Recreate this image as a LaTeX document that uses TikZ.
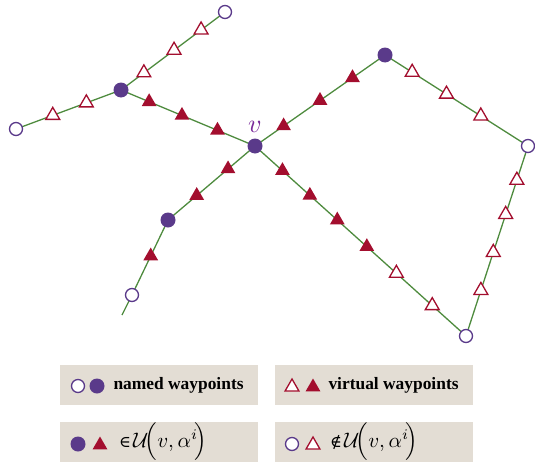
\documentclass[tikz,border=0pt]{standalone}
\usepackage{graphicx}
\usepackage{fontspec}
\setmainfont{Liberation Serif}
\newfontfamily\relsymfont{DejaVu Serif}
\usetikzlibrary{shapes.geometric,calc}
\definecolor{pgreen}{HTML}{4E8B3E}
\definecolor{ppurple}{HTML}{5A3A8A}
\definecolor{vpurple}{HTML}{7A2A9A}
\definecolor{pred}{HTML}{A30E2E}
\definecolor{boxfill}{HTML}{E3DDD4}
\newcommand{\memberset}{\scalebox{2.1}{$\mathcal{U}\!\Bigl(v,\alpha^{i}\!\Bigr)$}}
\tikzset{
  road/.style={draw=pgreen, line width=1.3pt},
  namedfull/.style={circle, fill=ppurple, minimum size=15pt, inner sep=0pt},
  namedopen/.style={circle, draw=ppurple, fill=white, line width=1.3pt, minimum size=13pt, inner sep=0pt},
  virtfull/.style={regular polygon, regular polygon sides=3, fill=pred, minimum size=17pt, inner sep=0pt},
  virtopen/.style={regular polygon, regular polygon sides=3, draw=pred, fill=white, line width=1.3pt, minimum size=16pt, inner sep=0pt},
  legbox/.style={fill=boxfill, minimum width=198pt, minimum height=40pt, inner sep=0pt},
  legtext/.style={anchor=west, font=\bfseries\fontsize{17.4}{17.4}\selectfont},
  legmath/.style={anchor=west, inner sep=0pt},
}
\begin{document}
\begin{tikzpicture}[x=1pt,y=-1pt]
\useasboundingbox (0,0) rectangle (535,463);
% named waypoints
\coordinate (TL) at (225,12);
\coordinate (L) at (16,129);
\coordinate (J) at (121,90);
\coordinate (V) at (255,146);
\coordinate (LL) at (168,220);
\coordinate (LO) at (132,295);
\coordinate (E) at (122,315);
\coordinate (T) at (385,55);
\coordinate (R) at (528,146);
\coordinate (B) at (466,336);
% roads
\draw[road] (L) -- (J) -- (TL);
\draw[road] (J) -- (V) -- (T) -- (R) -- (B) -- (V) -- (LL) -- (LO) -- (E);
% virtual waypoints
\foreach \t in {0.22,0.51,0.77} \node[virtopen] at ($(J)!\t!(TL)$) {};
\foreach \t in {0.35,0.67} \node[virtopen] at ($(L)!\t!(J)$) {};
\foreach \t in {0.21,0.455,0.72} \node[virtfull] at ($(J)!\t!(V)$) {};
\foreach \t in {0.31,0.67} \node[virtfull] at ($(V)!\t!(LL)$) {};
\node[virtfull] at ($(LL)!0.48!(LO)$) {};
\foreach \t in {0.22,0.5,0.75} \node[virtfull] at ($(V)!\t!(T)$) {};
\foreach \t in {0.19,0.43,0.67} \node[virtopen] at ($(T)!\t!(R)$) {};
\foreach \t in {0.13,0.26,0.39,0.53} \node[virtfull] at ($(V)!\t!(B)$) {};
\foreach \t in {0.67,0.84} \node[virtopen] at ($(V)!\t!(B)$) {};
\foreach \t in {0.24,0.44,0.64,0.82} \node[virtopen] at ($(B)!\t!(R)$) {};
% named waypoint marks
\node[namedopen] (nTL) at (TL) {};
\node[namedopen] (nL) at (L) {};
\node[namedfull] (nJ) at (J) {};
\node[namedfull] (nV) at (V) {};
\node[namedfull] (nLL) at (LL) {};
\node[namedopen] (nLO) at (LO) {};
\node[namedfull] (nT) at (T) {};
\node[namedopen] (nR) at (R) {};
\node[namedopen] (nB) at (B) {};
\node[text=vpurple, inner sep=0pt] (vlab) at (255,127) {\scalebox{2.6}{$v$}};
% legend
\node[legbox] (b1) at (158.5,385) {};
\node[legbox] (b2) at (374,385) {};
\node[legbox] (b3) at (159,442) {};
\node[legbox] (b4) at (374,442) {};
\node[namedopen] (l1a) at (78,386) {};
\node[namedfull] (l1b) at (97,386) {};
\node[legtext] (l1t) at (110,385) {named waypoints};
\node[virtopen] (l2a) at (292,387) {};
\node[virtfull] (l2b) at (313,387) {};
\node[legtext] (l2t) at (325,385) {virtual waypoints};
\node[namedfull] (l3a) at (78,444) {};
\node[virtfull] (l3b) at (100,445) {};
\node[legmath] (l3t) at (119,442) {{\relsymfont\fontsize{16}{16}\selectfont ∈}\hspace{2pt}\memberset};
\node[namedopen] (l4a) at (292,444) {};
\node[virtopen] (l4b) at (313,445) {};
\node[legmath] (l4t) at (330,442) {{\relsymfont\fontsize{16}{16}\selectfont ∉}\hspace{2pt}\memberset};
\end{tikzpicture}
\end{document}
